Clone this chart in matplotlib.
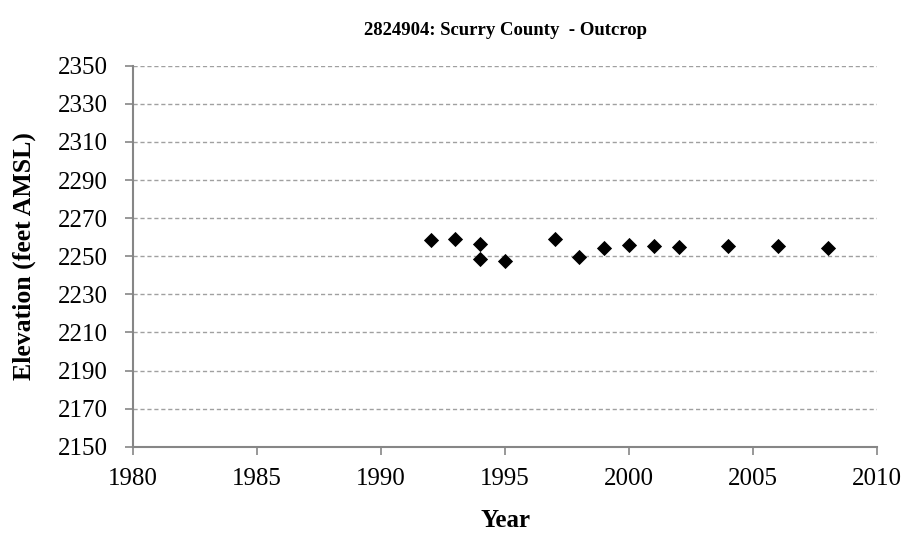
import matplotlib.pyplot as plt

years = [1992, 1993, 1994, 1994, 1995, 1997, 1998, 1999, 2000, 2001, 2002, 2004, 2006, 2008]
elevation = [2258.4, 2259.3, 2256.3, 2248.6, 2247.4, 2259.3, 2249.5, 2254.4,
             2255.9, 2255.4, 2255.1, 2255.3, 2255.3, 2254.2]
x_ticks = [1980, 1985, 1990, 1995, 2000, 2005, 2010]
y_ticks = list(range(2150, 2351, 20))

plt.rcParams['font.family'] = ['Liberation Serif', 'DejaVu Serif']

fig = plt.figure(figsize=(9.08, 5.5), dpi=100)
ax = fig.add_axes([0.1465, 0.1878, 0.8195, 0.6927])

ax.scatter(years, elevation, marker='D', s=60, color='black', zorder=3, linewidths=0)

ax.set_xlim(1980, 2010)
ax.set_ylim(2150, 2350)
ax.set_xticks(x_ticks)
ax.set_yticks(y_ticks)
ax.yaxis.grid(True, linestyle=(0, (3, 2)), color='#a0a0a0', linewidth=1)
ax.set_axisbelow(True)

for side in ['top', 'right']:
    ax.spines[side].set_visible(False)
for side in ['left', 'bottom']:
    ax.spines[side].set_color('#868686')
    ax.spines[side].set_linewidth(1.5)
ax.tick_params(direction='out', length=6, width=1.2, color='#868686', labelsize=18)
ax.tick_params(axis='x', pad=9)
ax.tick_params(axis='y', pad=12)

ax.set_title('2824904: Scurry County  - Outcrop', fontsize=13.5, fontweight='bold', pad=22)
ax.set_xlabel('Year', fontsize=18, fontweight='bold', labelpad=14)
ax.set_ylabel('Elevation (feet AMSL)', fontsize=18.5, fontweight='bold', labelpad=16)

fig.savefig('out.png', dpi=100)
